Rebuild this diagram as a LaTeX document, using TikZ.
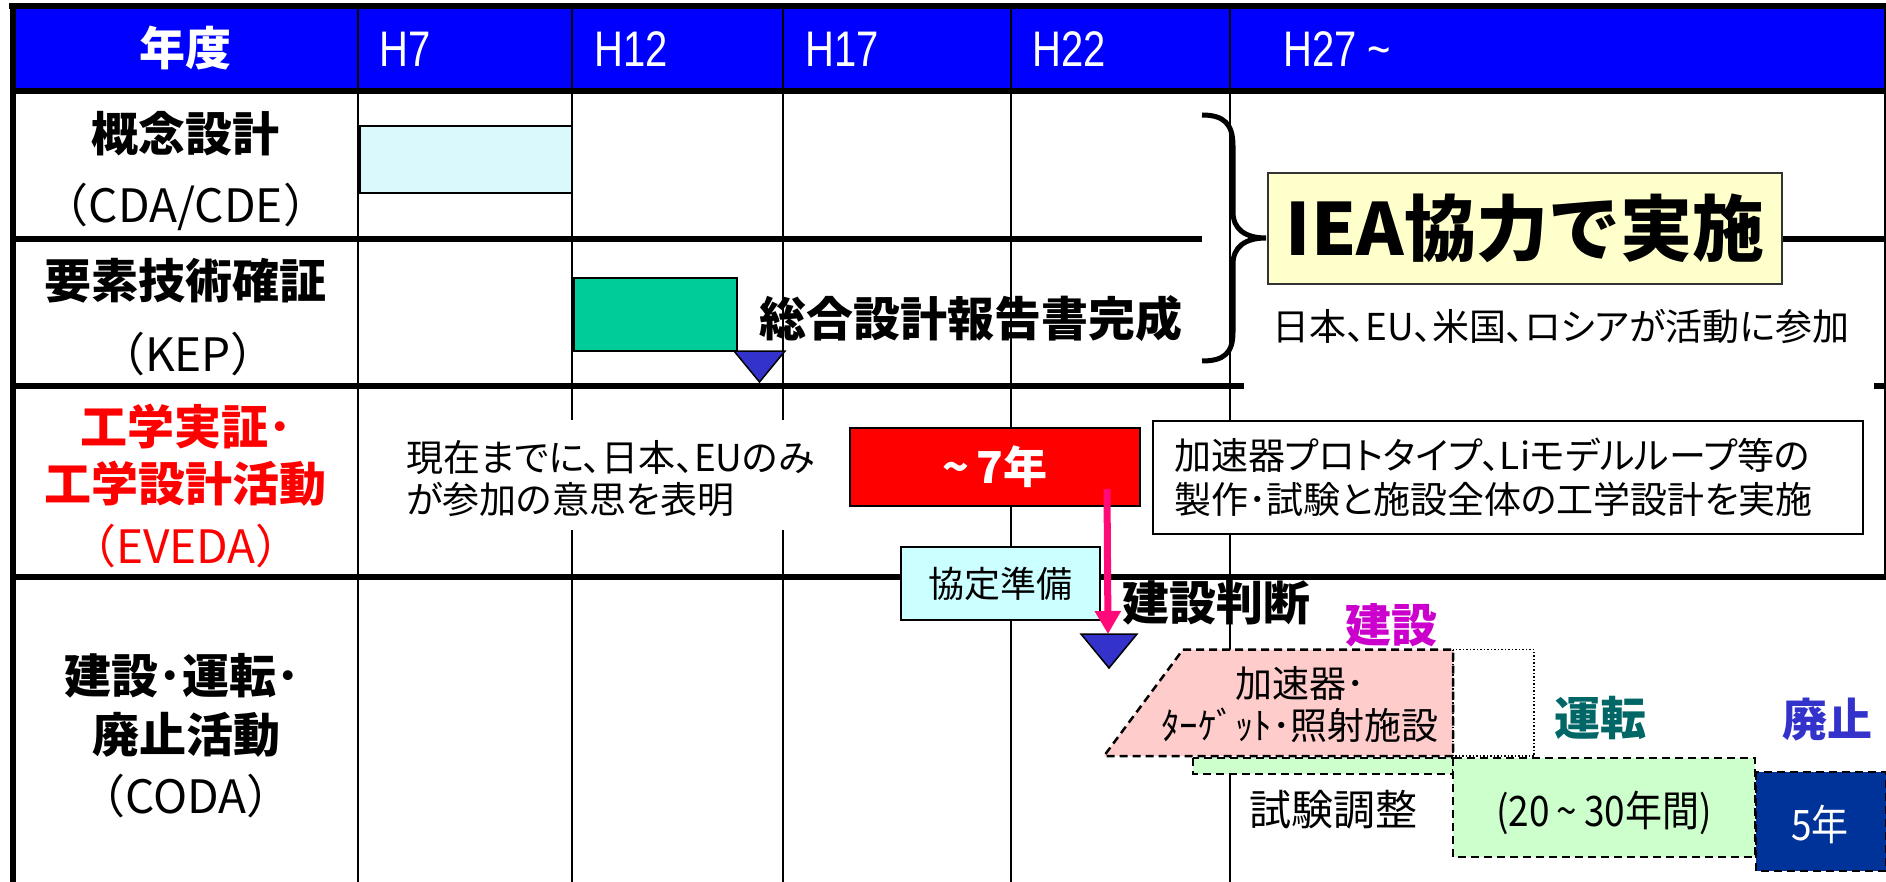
\documentclass[tikz,border=0pt]{standalone}
\usepackage{fontspec}
\setmainfont{Noto Sans CJK JP}
\newfontfamily\jpp{Noto Sans CJK JP}[RawFeature=+palt]
\newfontfamily\jpn{Noto Sans CJK JP}[FakeStretch=0.88]
\newfontfamily\hdr{Liberation Sans}[FakeStretch=0.8]
\usetikzlibrary{arrows.meta}
\newcommand\fsz[1]{\fontsize{#1}{#1}\selectfont}
\newcommand\fsl[2]{\fontsize{#1}{#2}\selectfont}
\definecolor{hblue}{HTML}{0000FF}
\definecolor{cdacyan}{HTML}{D9F9FC}
\definecolor{kepgreen}{HTML}{00CC99}
\definecolor{tri}{HTML}{3333CC}
\definecolor{arrowpink}{HTML}{FF0A78}
\definecolor{ieayellow}{HTML}{FFFFCC}
\definecolor{pinkfill}{HTML}{FFCCCC}
\definecolor{greenfill}{HTML}{CCFFCC}
\definecolor{navy}{HTML}{003399}
\definecolor{kenmag}{HTML}{CC00CC}
\definecolor{unteal}{HTML}{006666}
\definecolor{haiblue}{HTML}{3333CC}
\definecolor{kyocyan}{HTML}{CCFFFF}
\begin{document}
\begin{tikzpicture}[x=1pt,y=-1pt,
  grid/.style={line width=2pt},
  rule/.style={line width=6pt},
  dashbox/.style={line width=2.5pt, dash pattern=on 8pt off 5pt},
  barbox/.style={draw=black, line width=1.5pt, inner sep=0pt},
  lbl/.style={inner sep=0pt, align=center},
  rowlab/.style={lbl, font=\fsz{47}\bfseries},
  rowsub/.style={lbl, font=\fsz{46}},
  hlab/.style={inner sep=0pt, anchor=west, text=white, font=\hdr\fsz{50}},
  body/.style={inner sep=0pt, font=\jpp\fsl{37}{44}},
  tritip/.style={fill=tri, draw=black, line width=1.5pt},
]
\useasboundingbox (0,0) rectangle (1886,882);
\fill[white] (0,0) rectangle (1886,882);
% header band
\fill[hblue] (12,6) rectangle (1886,91);
% column lines
\foreach \cx in {358,572,783,1011,1230} { \draw[grid] (\cx,6) -- (\cx,882); }
\draw[grid] (1885,6) -- (1885,576);
% cover behind row-3 note
\fill[white] (390,420) rectangle (845,530);
% rules
\draw[rule] (9,6.5) -- (1886,6.5);
\draw[rule] (12.5,3.5) -- (12.5,882);
\draw[rule] (12,91) -- (1886,91);
\draw[rule] (12,239) -- (1202,239);
\draw[rule] (1782,239) -- (1886,239);
\draw[rule] (12,385.5) -- (1244,385.5);
\draw[rule] (1874,385.5) -- (1886,385.5);
\draw[rule] (12,576.5) -- (1886,576.5);

% header texts
\node[lbl, text=white, font=\fsz{46}\bfseries] (nendo) at (185,48) {年度};
\node[hlab] (h7) at (379,49) {H7};
\node[hlab] (h12) at (594,49) {H12};
\node[hlab] (h17) at (805,49) {H17};
\node[hlab] (h22) at (1032,49) {H22};
\node[hlab] (h27) at (1283,49) {H27 \textasciitilde};

% row labels
\node[rowlab] (l1a) at (185,134) {概念設計};
\node[rowsub] (l1b) at (186,207) {（CDA/CDE）};
\node[rowlab] (l2a) at (185,281) {要素技術確証};
\node[rowsub] (l2b) at (188,354) {（KEP）};
\node[rowlab, text=red] (l3a) at (186,427) {工学実証･};
\node[rowlab, text=red] (l3b) at (185,484) {工学設計活動};
\node[rowsub, text=red] (l3c) at (186,546) {（EVEDA）};
\node[rowlab] (l4a) at (182,676) {建設･運転･};
\node[rowlab] (l4b) at (186,735) {廃止活動};
\node[rowsub] (l4c) at (186,796) {（CODA）};

% row 1 / 2 bars
\node[barbox, fill=cdacyan, minimum width=212, minimum height=67] (cda) at (466,159.5) {};
\node[barbox, fill=kepgreen, minimum width=163, minimum height=73] (kep) at (655.5,314.5) {};
\filldraw[tritip] (734,351) -- (785,351) -- (759.5,382) -- cycle;
\node[lbl, font=\fsz{47}\bfseries] (sogo) at (971,319) {総合設計報告書完成};

% brace
\draw[line width=5pt] (1202,115) .. controls (1224,115) and (1233,124) .. (1233,146)
  -- (1233,212) .. controls (1233,229) and (1245,238) .. (1266,238)
  .. controls (1245,238) and (1233,247) .. (1233,264)
  -- (1233,332) .. controls (1233,353) and (1224,361) .. (1202,361);
\fill[white] (1244,292) rectangle (1874,392);
\node[draw=black!80, line width=1.5pt, fill=ieayellow, minimum width=514, minimum height=111,
  inner sep=0pt, font=\fsz{72}\bfseries] (iea) at (1525,228.5) {IEA協力で実施};
\node[body] (member) at (1561,326) {日本、EU、米国、ロシアが活動に参加};

% row 3
\node[body, font=\jpp\fsl{37}{42}, anchor=west, align=left] (now) at (406,479) {現在までに、日本、EUのみ\\が参加の意思を表明};
\node[draw=black, line width=1.5pt, fill=red, minimum width=290, minimum height=78, inner sep=0pt,
  text=white, font=\fsz{44}\bfseries] (seven) at (995,467) {\textasciitilde\,7年};
\node[draw=black, line width=2pt, fill=white, minimum width=710, minimum height=113, inner xsep=21pt,
  text width=668, align=left, font=\jpp\fsl{37}{44}] (plan) at (1508,477.5)
  {加速器プロトタイプ、Liモデルループ等の\\製作･試験と施設全体の工学設計を実施};
\node[draw=black, line width=1.5pt, fill=kyocyan, minimum width=199, minimum height=73, inner sep=0pt,
  font=\jpp\fsz{36}] (kyotei) at (1000.5,583.5) {協定準備};

% decision arrow and triangle
\coordinate (arrtop) at (1107,489);
\coordinate (t2) at (1108,634);
\filldraw[tritip] (1081,634) -- (1137,634) -- (1109,668) -- cycle;
\draw[arrowpink, line width=7pt, -{Triangle[width=25pt,length=23pt]}] (arrtop) -- (t2);
\node[lbl, font=\fsz{47}\bfseries] (judge) at (1216,603) {建設判断};

% row 4
\node[lbl, text=kenmag, font=\fsz{46}\bfseries] (ken) at (1391,625) {建設};
\filldraw[dashbox, fill=pinkfill] (1183,649.5) -- (1453,649.5) -- (1453,756) -- (1104,756) -- cycle;
\draw[line width=1.5pt, dash pattern=on 1.5pt off 2pt] (1453,649.5) rectangle (1534,756);
\node[lbl, font=\jpp\fsl{37}{42}] (accel) at (1300,705) {加速器･\\ﾀｰｹﾞｯﾄ･照射施設};
\filldraw[dashbox, fill=greenfill] (1193,758) rectangle (1453,774);
\filldraw[dashbox, fill=greenfill] (1453,758) rectangle (1755,857);
\node[lbl, font=\jpp\fsz{42}] (test) at (1333,810) {試験調整};
\node[lbl, font=\jpn\fsz{42}] (years) at (1604,813) {(20\,\textasciitilde\,30年間)};
\node[lbl, text=unteal, font=\fsz{46}\bfseries] (unten) at (1600,718) {運転};
\node[lbl, text=haiblue, font=\fsz{45}\bfseries] (haishi) at (1827,720) {廃止};
\filldraw[dashbox, fill=navy] (1756,772) rectangle (1886,871);
\node[lbl, text=white, font=\jpn\fsz{42}] (five) at (1820,824) {5年};
\end{tikzpicture}
\end{document}
